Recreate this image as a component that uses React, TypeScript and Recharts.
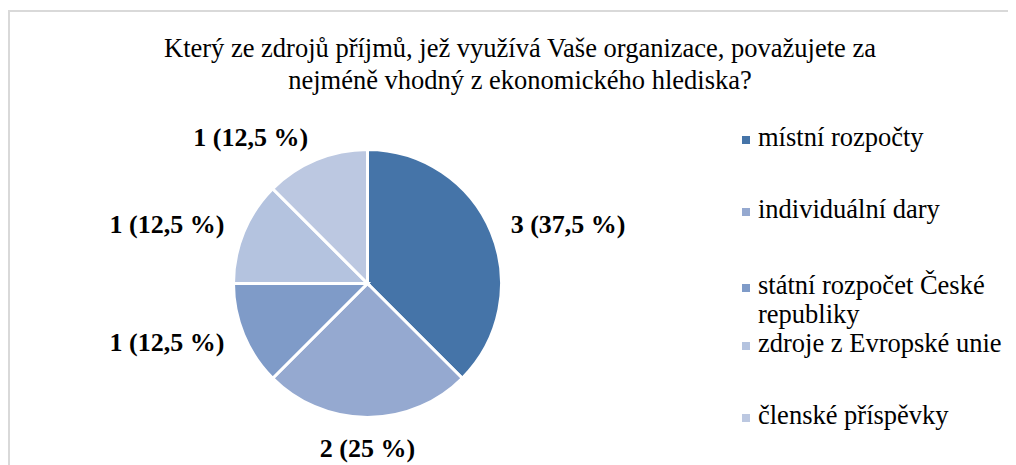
import React from "react";
import { PieChart, Pie, Cell, Legend } from "recharts";

const sources = [
  "místní rozpočty",
  "individuální dary",
  "státní rozpočet České republiky",
  "zdroje z Evropské unie",
  "členské příspěvky",
];
const counts = [3, 2, 1, 1, 1];
const colors = ["#4574A8", "#95A9D0", "#7F9BC8", "#B4C3DF", "#BCC8E1"];

const title1 = "Který ze zdrojů příjmů, jež využívá Vaše organizace, považujete za";
const title2 = "nejméně vhodný z ekonomického hlediska?";

const data = sources.map((name, i) => ({ name, value: counts[i] }));
const total = counts.reduce((a, b) => a + b, 0);

const serif = '"Liberation Serif", "Times New Roman", serif';
const RAD = Math.PI / 180;

// label sits just outside the slice, anchored by which side it is on
const renderLabel = (props: any) => {
  const { cx, cy, midAngle, outerRadius, value } = props;
  const r = outerRadius + 21;
  const cos = Math.cos(-midAngle * RAD);
  const sin = Math.sin(-midAngle * RAD);
  const x = cx + r * cos;
  let y = cy + r * sin;
  const anchor = cos > 0.2 ? "start" : cos < -0.2 ? "end" : "middle";
  if (Math.abs(cos) <= 0.2) y += sin > 0 ? 10 : -10;
  else if (sin < -0.8) y -= 3;
  const pct = String(Math.round((value / total) * 1000) / 10).replace(".", ",");
  return (
    <text
      x={x}
      y={y}
      textAnchor={anchor}
      dominantBaseline="central"
      fontFamily={serif}
      fontSize={26}
      fontWeight="bold"
      fill="#000"
    >
      {`${value} (${pct} %)`}
    </text>
  );
};

const legendGaps = [0, 43, 47, 0, 43];

const renderLegend = (props: any) => {
  // keep the data order (recharts sorts legend items by name)
  const items = [...(props.payload || [])].sort(
    (a: any, b: any) => sources.indexOf(a.value) - sources.indexOf(b.value)
  );
  return (
    <div style={{ fontFamily: serif, fontSize: 26.5, lineHeight: "29px", color: "#000" }}>
      {items.map((entry: any, i: number) => (
        <div key={i} style={{ display: "flex", marginTop: legendGaps[i] }}>
          <div
            style={{
              width: 8,
              height: 8,
              background: entry.color,
              marginTop: 13,
              marginRight: 8,
              flex: "none",
            }}
          />
          <div style={{ width: 250 }}>{entry.value}</div>
        </div>
      ))}
    </div>
  );
};

export default function App() {
  return (
    <div style={{ position: "relative", width: 1008, height: 457, background: "#fff" }}>
      <div
        style={{
          position: "absolute",
          left: 0,
          top: 2,
          right: 0,
          bottom: 0,
          borderTop: "2px solid #d9d9d9",
          borderLeft: "2px solid #d9d9d9",
        }}
      />
      <div
        style={{
          position: "absolute",
          left: 112,
          width: 800,
          top: 24,
          textAlign: "center",
          fontFamily: serif,
          fontSize: 26.5,
          lineHeight: "32px",
          color: "#000",
        }}
      >
        <div>{title1}</div>
        <div>{title2}</div>
      </div>
      <div style={{ position: "absolute", left: 0, top: 0 }}>
        <PieChart width={1008} height={457} margin={{ top: 0, right: 0, bottom: 0, left: 0 }}>
          <Pie
            data={data}
            dataKey="value"
            nameKey="name"
            cx={359.5}
            cy={275.5}
            outerRadius={134}
            startAngle={90}
            endAngle={-270}
            stroke="#fff"
            strokeWidth={3}
            label={renderLabel}
            labelLine={false}
            isAnimationActive={false}
          >
            {data.map((d, i) => (
              <Cell key={d.name} fill={colors[i]} />
            ))}
          </Pie>
          <Legend
            layout="vertical"
            align="right"
            verticalAlign="top"
            content={renderLegend}
            wrapperStyle={{ left: 734, top: 115, width: 270 }}
          />
        </PieChart>
      </div>
    </div>
  );
}
